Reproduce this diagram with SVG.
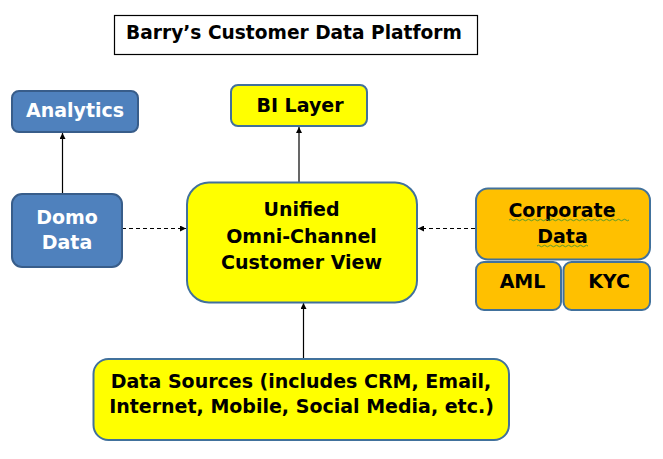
<svg xmlns="http://www.w3.org/2000/svg" width="663" height="459" viewBox="0 0 663 459">
<style>
text{font-family:"DejaVu Sans",Verdana,sans-serif;font-weight:bold;font-size:19px;text-anchor:middle}
.blue{fill:#4F81BD;stroke:#385D8A;stroke-width:2}
.yel{fill:#FFFF00;stroke:#41719C;stroke-width:2}
.org{fill:#FFC000;stroke:#41719C;stroke-width:2}
.wt{fill:#FFFFFF}
.bk{fill:#000000}
.c{stroke:#000;stroke-width:1.2;fill:none}
.d{stroke-dasharray:4 3}
.sq{stroke:#5B9B2B;stroke-width:1;fill:none}
</style>
<defs>
<marker id="ah" viewBox="0 0 10 10" refX="10" refY="5" markerWidth="6" markerHeight="6" orient="auto" markerUnits="userSpaceOnUse">
<path d="M0,0 L10,5 L0,10 z" fill="#000"/>
</marker>
</defs>
<rect width="663" height="459" fill="#fff"/>
<g id="title">
<rect x="114.5" y="15.5" width="363" height="39" fill="#fff" stroke="#000" stroke-width="1.2"/>
<text x="294" y="39" class="bk" style="font-size:18.6px">Barry’s Customer Data Platform</text>
</g>
<g id="connectors">
<line class="c" x1="62.5" y1="194" x2="62.5" y2="133" marker-end="url(#ah)"/>
<line class="c" x1="299" y1="182" x2="299" y2="127" marker-end="url(#ah)"/>
<line class="c d" x1="122" y1="228.5" x2="186" y2="228.5" marker-end="url(#ah)"/>
<line class="c d" x1="475" y1="228.5" x2="418" y2="228.5" marker-end="url(#ah)"/>
<line class="c" x1="303.5" y1="359" x2="303.5" y2="303" marker-end="url(#ah)"/>
</g>
<g id="analytics">
<rect class="blue" x="12" y="91" width="126" height="41" rx="7"/>
<text x="75" y="116.5" class="wt">Analytics</text>
</g>
<g id="bi-layer">
<rect class="yel" x="231" y="85" width="136" height="41" rx="7"/>
<text x="300" y="111.5" class="bk">BI Layer</text>
</g>
<g id="domo">
<rect class="blue" x="12" y="194" width="110" height="73" rx="10"/>
<text x="67" y="223.5" class="wt">Domo</text>
<text x="67" y="249" class="wt">Data</text>
</g>
<g id="unified">
<rect class="yel" x="187" y="182.5" width="230" height="120" rx="22"/>
<text x="301.5" y="215.7" class="bk">Unified</text>
<text x="301.5" y="242.5" class="bk">Omni-Channel</text>
<text x="301.5" y="269" class="bk">Customer View</text>
</g>
<g id="corporate">
<rect class="org" x="476" y="188.5" width="174" height="71" rx="12"/>
<text x="562" y="216.7" class="bk">Corporate</text>
<text x="562.5" y="242.7" class="bk">Data</text>
<path class="sq" d="M509,220 q1.5,-1.5 3,0 t3,0 t3,0 t3,0 t3,0 t3,0 t3,0 t3,0 t3,0 t3,0 t3,0 t3,0 t3,0 t3,0 t3,0 t3,0 t3,0 t3,0 t3,0 t3,0 t3,0 t3,0 t3,0 t3,0 t3,0 t3,0 t3,0 t3,0 t3,0 t3,0 t3,0 t3,0 t3,0 t3,0 t3,0 t3,0 t3,0 t3,0 t3,0 t3,0"/>
<path class="sq" d="M537,246 q1.5,-1.5 3,0 t3,0 t3,0 t3,0 t3,0 t3,0 t3,0 t3,0 t3,0 t3,0 t3,0 t3,0 t3,0 t3,0 t3,0 t3,0 t3,0"/>
</g>
<g id="aml">
<rect class="org" x="476" y="262" width="85" height="48" rx="8"/>
<text x="522.5" y="287.5" class="bk">AML</text>
</g>
<g id="kyc">
<rect class="org" x="563.5" y="262" width="86.5" height="48" rx="8"/>
<text x="609" y="287.5" class="bk">KYC</text>
</g>
<g id="data-sources">
<rect class="yel" x="93.5" y="359" width="415.5" height="81" rx="15"/>
<text x="301" y="387.5" class="bk">Data Sources (includes CRM, Email,</text>
<text x="301.5" y="413.3" class="bk">Internet, Mobile, Social Media, etc.)</text>
</g>
</svg>
